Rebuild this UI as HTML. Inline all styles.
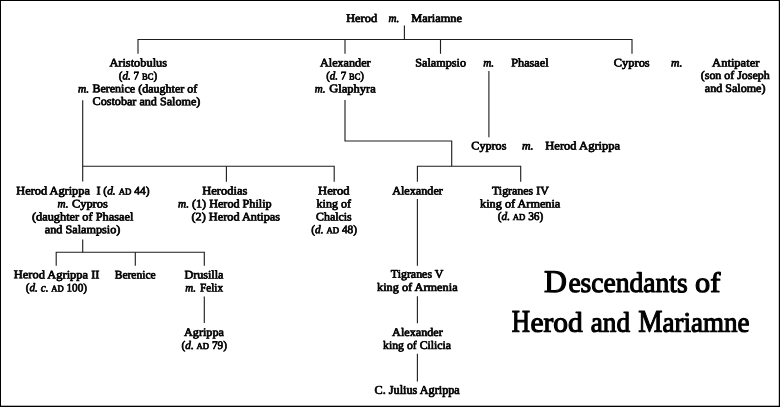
<!DOCTYPE html>
<html lang="en">
<head>
<meta charset="utf-8">
<title>Descendants of Herod and Mariamne</title>
<style>
html,body{margin:0;padding:0;background:#fff;}
body{width:780px;height:407px;overflow:hidden;font-family:"Liberation Serif",serif;}
svg{display:block;}
</style>
</head>
<body>
<svg width="780" height="407" viewBox="0 0 780 407">
<defs><filter id="soft" x="0" y="0" width="780" height="407" filterUnits="userSpaceOnUse"><feGaussianBlur stdDeviation="0.35"/></filter></defs>
<rect x="0" y="0" width="780" height="407" fill="#fff"/>
<rect x="0.5" y="0.5" width="779" height="406" fill="none" stroke="#000" stroke-width="1"/>
<rect x="1" y="405" width="778" height="1" fill="#000" opacity="0.3"/>
<rect x="778" y="1" width="1" height="405" fill="#000" opacity="0.2"/>
<g stroke="#1e1e1e" stroke-width="1.12" stroke-linecap="butt" stroke-linejoin="miter" fill="none">
<polyline points="138,53.8 138,39.5 632,39.5 632,53.8"/>
<polyline points="404.4,25.4 404.4,39.5"/>
<polyline points="345,39.5 345,53.8"/>
<polyline points="440.5,39.5 440.5,53.8"/>
<polyline points="82.7,100.2 82.7,181.6"/>
<polyline points="82.7,166.2 334.2,166.2 334.2,181.8"/>
<polyline points="226.4,166.2 226.4,181.8"/>
<polyline points="345,99.9 345,141 451.7,141 451.7,166.2"/>
<polyline points="417.4,181.8 417.4,166.2 520.7,166.2 520.7,181.8"/>
<polyline points="488.9,70.9 488.9,137.2"/>
<polyline points="82.7,239.4 82.7,252.3"/>
<polyline points="56.2,265.8 56.2,252.3 204.3,252.3 204.3,265.8"/>
<polyline points="135.3,252.3 135.3,265.8"/>
<polyline points="204.3,296.5 204.3,323.1"/>
<polyline points="417.4,198.9 417.4,265.8"/>
<polyline points="417.4,296.2 417.4,323.2"/>
<polyline points="417.4,353.8 417.4,381.6"/>
</g>
<g font-family="'Liberation Serif', serif" font-size="11.7" fill="#000" stroke="#000" stroke-width="0.72" stroke-linejoin="round" filter="url(#soft)">
<text x="346.2" y="22.0" textLength="30.9" lengthAdjust="spacingAndGlyphs" transform="rotate(0.04 361.6 22.0)" xml:space="preserve">Herod</text>
<text x="388.5" y="22.0" textLength="10.8" lengthAdjust="spacingAndGlyphs" transform="rotate(0.04 393.9 22.0)" xml:space="preserve"><tspan font-style="italic">m.</tspan></text>
<text x="411.3" y="22.0" textLength="50.7" lengthAdjust="spacingAndGlyphs" transform="rotate(0.04 436.6 22.0)" xml:space="preserve">Mariamne</text>
<text x="109.4" y="66.55" textLength="57.7" lengthAdjust="spacingAndGlyphs" transform="rotate(0.04 138.2 66.55)" xml:space="preserve">Aristobulus</text>
<text x="118.8" y="79.4" textLength="38.3" lengthAdjust="spacingAndGlyphs" transform="rotate(0.04 137.9 79.4)" xml:space="preserve">(<tspan font-style="italic">d.</tspan> 7 <tspan font-size="9.0">BC</tspan>)</text>
<text x="78.0" y="92.4" textLength="11.1" lengthAdjust="spacingAndGlyphs" transform="rotate(0.04 83.5 92.4)" xml:space="preserve"><tspan font-style="italic">m.</tspan></text>
<text x="92.4" y="92.4" textLength="104.9" lengthAdjust="spacingAndGlyphs" transform="rotate(0.04 144.9 92.4)" xml:space="preserve">Berenice (daughter of</text>
<text x="92.6" y="105.15" textLength="107.8" lengthAdjust="spacingAndGlyphs" transform="rotate(0.04 146.5 105.15)" xml:space="preserve">Costobar and Salome)</text>
<text x="320.0" y="66.55" textLength="50.6" lengthAdjust="spacingAndGlyphs" transform="rotate(0.04 345.3 66.55)" xml:space="preserve">Alexander</text>
<text x="326.2" y="79.4" textLength="37.8" lengthAdjust="spacingAndGlyphs" transform="rotate(0.04 345.1 79.4)" xml:space="preserve">(<tspan font-style="italic">d.</tspan> 7 <tspan font-size="9.0">BC</tspan>)</text>
<text x="314.7" y="92.4" textLength="10.8" lengthAdjust="spacingAndGlyphs" transform="rotate(0.04 320.1 92.4)" xml:space="preserve"><tspan font-style="italic">m.</tspan></text>
<text x="329.2" y="92.4" textLength="46.5" lengthAdjust="spacingAndGlyphs" transform="rotate(0.04 352.4 92.4)" xml:space="preserve">Glaphyra</text>
<text x="415.3" y="66.55" textLength="50.7" lengthAdjust="spacingAndGlyphs" transform="rotate(0.04 440.6 66.55)" xml:space="preserve">Salampsio</text>
<text x="483.2" y="66.55" textLength="10.9" lengthAdjust="spacingAndGlyphs" transform="rotate(0.04 488.6 66.55)" xml:space="preserve"><tspan font-style="italic">m.</tspan></text>
<text x="511.3" y="66.55" textLength="37.3" lengthAdjust="spacingAndGlyphs" transform="rotate(0.04 530.0 66.55)" xml:space="preserve">Phasael</text>
<text x="613.8" y="66.55" textLength="35.9" lengthAdjust="spacingAndGlyphs" transform="rotate(0.04 631.8 66.55)" xml:space="preserve">Cypros</text>
<text x="671.0" y="66.55" textLength="11.4" lengthAdjust="spacingAndGlyphs" transform="rotate(0.04 676.7 66.55)" xml:space="preserve"><tspan font-style="italic">m.</tspan></text>
<text x="712.1" y="66.55" textLength="47.3" lengthAdjust="spacingAndGlyphs" transform="rotate(0.04 735.8 66.55)" xml:space="preserve">Antipater</text>
<text x="700.8" y="79.1" textLength="68.9" lengthAdjust="spacingAndGlyphs" transform="rotate(0.04 735.2 79.1)" xml:space="preserve">(son of Joseph</text>
<text x="704.8" y="92.0" textLength="60.7" lengthAdjust="spacingAndGlyphs" transform="rotate(0.04 735.1 92.0)" xml:space="preserve">and Salome)</text>
<text x="471.3" y="149.45" textLength="35.1" lengthAdjust="spacingAndGlyphs" transform="rotate(0.04 488.9 149.45)" xml:space="preserve">Cypros</text>
<text x="522.0" y="149.45" textLength="11.6" lengthAdjust="spacingAndGlyphs" transform="rotate(0.04 527.8 149.45)" xml:space="preserve"><tspan font-style="italic">m.</tspan></text>
<text x="545.3" y="149.45" textLength="74.9" lengthAdjust="spacingAndGlyphs" transform="rotate(0.04 582.8 149.45)" xml:space="preserve">Herod Agrippa</text>
<text x="16.3" y="194.45" textLength="73.6" lengthAdjust="spacingAndGlyphs" transform="rotate(0.04 53.1 194.45)" xml:space="preserve">Herod Agrippa</text>
<text x="96.5" y="194.45" textLength="4.1" lengthAdjust="spacingAndGlyphs" transform="rotate(0.04 98.5 194.45)" xml:space="preserve">I</text>
<text x="103.3" y="194.45" textLength="46.3" lengthAdjust="spacingAndGlyphs" transform="rotate(0.04 126.4 194.45)" xml:space="preserve">(<tspan font-style="italic">d.</tspan> <tspan font-size="9.0">AD</tspan> 44)</text>
<text x="57.6" y="207.45" textLength="10.9" lengthAdjust="spacingAndGlyphs" transform="rotate(0.04 63.0 207.45)" xml:space="preserve"><tspan font-style="italic">m.</tspan></text>
<text x="71.9" y="207.45" textLength="35.9" lengthAdjust="spacingAndGlyphs" transform="rotate(0.04 89.8 207.45)" xml:space="preserve">Cypros</text>
<text x="31.9" y="220.45" textLength="101.5" lengthAdjust="spacingAndGlyphs" transform="rotate(0.04 82.7 220.45)" xml:space="preserve">(daughter of Phasael</text>
<text x="44.8" y="233.2" textLength="75.6" lengthAdjust="spacingAndGlyphs" transform="rotate(0.04 82.6 233.2)" xml:space="preserve">and Salampsio)</text>
<text x="202.2" y="194.45" textLength="45.2" lengthAdjust="spacingAndGlyphs" transform="rotate(0.04 224.8 194.45)" xml:space="preserve">Herodias</text>
<text x="178.1" y="207.45" textLength="10.9" lengthAdjust="spacingAndGlyphs" transform="rotate(0.04 183.6 207.45)" xml:space="preserve"><tspan font-style="italic">m.</tspan></text>
<text x="191.9" y="207.45" textLength="79.8" lengthAdjust="spacingAndGlyphs" transform="rotate(0.04 231.8 207.45)" xml:space="preserve">(1) Herod Philip</text>
<text x="191.5" y="220.45" textLength="88.6" lengthAdjust="spacingAndGlyphs" transform="rotate(0.04 235.8 220.45)" xml:space="preserve">(2) Herod Antipas</text>
<text x="318.0" y="194.45" textLength="31.6" lengthAdjust="spacingAndGlyphs" transform="rotate(0.04 333.8 194.45)" xml:space="preserve">Herod</text>
<text x="316.6" y="207.45" textLength="34.4" lengthAdjust="spacingAndGlyphs" transform="rotate(0.04 333.8 207.45)" xml:space="preserve">king of</text>
<text x="316.1" y="220.45" textLength="35.6" lengthAdjust="spacingAndGlyphs" transform="rotate(0.04 333.9 220.45)" xml:space="preserve">Chalcis</text>
<text x="311.3" y="233.2" textLength="45.8" lengthAdjust="spacingAndGlyphs" transform="rotate(0.04 334.2 233.2)" xml:space="preserve">(<tspan font-style="italic">d.</tspan> <tspan font-size="9.0">AD</tspan> 48)</text>
<text x="392.2" y="194.45" textLength="50.7" lengthAdjust="spacingAndGlyphs" transform="rotate(0.04 417.5 194.45)" xml:space="preserve">Alexander</text>
<text x="492.0" y="194.45" textLength="56.8" lengthAdjust="spacingAndGlyphs" transform="rotate(0.04 520.4 194.45)" xml:space="preserve">Tigranes IV</text>
<text x="480.1" y="207.45" textLength="80.2" lengthAdjust="spacingAndGlyphs" transform="rotate(0.04 520.2 207.45)" xml:space="preserve">king of Armenia</text>
<text x="497.7" y="220.1" textLength="45.6" lengthAdjust="spacingAndGlyphs" transform="rotate(0.04 520.5 220.1)" xml:space="preserve">(<tspan font-style="italic">d.</tspan> <tspan font-size="9.0">AD</tspan> 36)</text>
<text x="13.8" y="278.4" textLength="85.7" lengthAdjust="spacingAndGlyphs" transform="rotate(0.04 56.6 278.4)" xml:space="preserve">Herod Agrippa II</text>
<text x="25.8" y="291.4" textLength="61.2" lengthAdjust="spacingAndGlyphs" transform="rotate(0.04 56.4 291.4)" xml:space="preserve">(<tspan font-style="italic">d. c.</tspan> <tspan font-size="9.0">AD</tspan> 100)</text>
<text x="114.7" y="278.4" textLength="41.0" lengthAdjust="spacingAndGlyphs" transform="rotate(0.04 135.2 278.4)" xml:space="preserve">Berenice</text>
<text x="184.4" y="278.4" textLength="39.1" lengthAdjust="spacingAndGlyphs" transform="rotate(0.04 203.9 278.4)" xml:space="preserve">Drusilla</text>
<text x="185.3" y="291.4" textLength="10.7" lengthAdjust="spacingAndGlyphs" transform="rotate(0.04 190.7 291.4)" xml:space="preserve"><tspan font-style="italic">m.</tspan></text>
<text x="200.0" y="291.4" textLength="23.0" lengthAdjust="spacingAndGlyphs" transform="rotate(0.04 211.5 291.4)" xml:space="preserve">Felix</text>
<text x="390.8" y="277.8" textLength="52.6" lengthAdjust="spacingAndGlyphs" transform="rotate(0.04 417.1 277.8)" xml:space="preserve">Tigranes V</text>
<text x="377.0" y="291.0" textLength="80.6" lengthAdjust="spacingAndGlyphs" transform="rotate(0.04 417.3 291.0)" xml:space="preserve">king of Armenia</text>
<text x="184.0" y="336" textLength="40.0" lengthAdjust="spacingAndGlyphs" transform="rotate(0.04 204.0 336)" xml:space="preserve">Agrippa</text>
<text x="181.5" y="349" textLength="45.5" lengthAdjust="spacingAndGlyphs" transform="rotate(0.04 204.2 349)" xml:space="preserve">(<tspan font-style="italic">d.</tspan> <tspan font-size="9.0">AD</tspan> 79)</text>
<text x="392.1" y="336" textLength="50.7" lengthAdjust="spacingAndGlyphs" transform="rotate(0.04 417.5 336)" xml:space="preserve">Alexander</text>
<text x="383.1" y="349" textLength="67.9" lengthAdjust="spacingAndGlyphs" transform="rotate(0.04 417.1 349)" xml:space="preserve">king of Cilicia</text>
<text x="374.6" y="393.55" textLength="85.2" lengthAdjust="spacingAndGlyphs" transform="rotate(0.04 417.2 393.55)" xml:space="preserve">C. Julius Agrippa</text>
</g>
<g font-family="'Liberation Serif', serif" fill="#000" stroke="#000" stroke-width="1.15" stroke-linejoin="round" filter="url(#soft)">
<text x="544.0" y="292.1" font-size="31.6" textLength="22.9" lengthAdjust="spacingAndGlyphs" transform="rotate(0.04 555.5 292.1)">D</text>
<text x="568.4" y="292.1" font-size="28.4" textLength="119.3" lengthAdjust="spacingAndGlyphs" transform="rotate(0.04 628.0 292.1)">escendants</text>
<text x="695.0" y="292.1" font-size="28.4" textLength="25.3" lengthAdjust="spacingAndGlyphs" transform="rotate(0.04 707.6 292.1)">of</text>
<text x="511.7" y="331.8" font-size="31.6" textLength="18.3" lengthAdjust="spacingAndGlyphs" transform="rotate(0.04 520.9 331.8)">H</text>
<text x="530.4" y="331.8" font-size="28.4" textLength="52.3" lengthAdjust="spacingAndGlyphs" transform="rotate(0.04 556.5 331.8)">erod</text>
<text x="590.8" y="331.8" font-size="28.4" textLength="39.2" lengthAdjust="spacingAndGlyphs" transform="rotate(0.04 610.4 331.8)">and</text>
<text x="638.3" y="331.8" font-size="31.6" textLength="24.2" lengthAdjust="spacingAndGlyphs" transform="rotate(0.04 650.4 331.8)">M</text>
<text x="662.6" y="331.8" font-size="28.4" textLength="86.8" lengthAdjust="spacingAndGlyphs" transform="rotate(0.04 706.0 331.8)">ariamne</text>
</g>
</svg>
</body>
</html>
